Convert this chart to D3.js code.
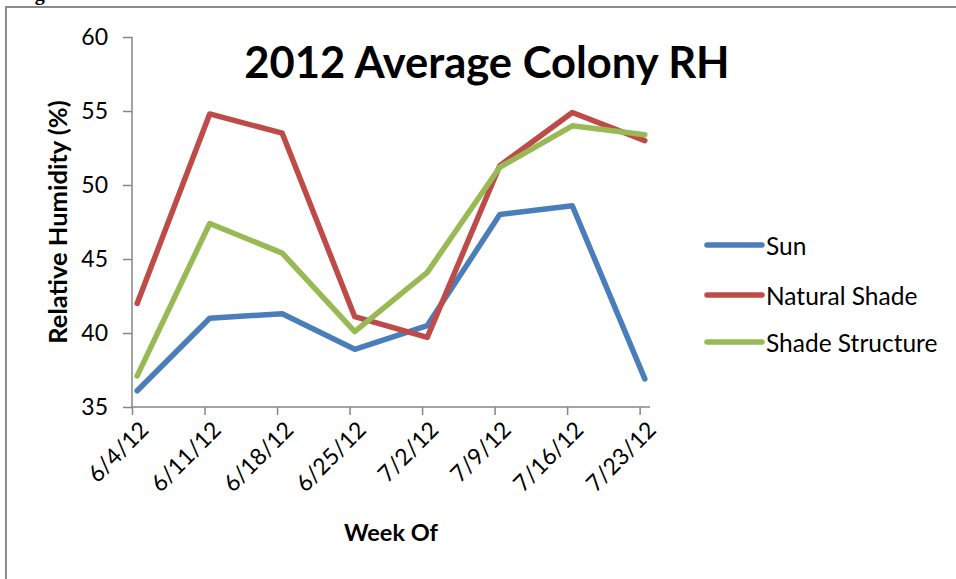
<!DOCTYPE html>
<html><head><meta charset="utf-8">
<script src="https://cdn.jsdelivr.net/npm/d3@7"></script>
<style>body{margin:0;background:#fff}svg{display:block}</style>
</head><body>
<svg id="chart" width="956" height="579"></svg>
<script>
// ---- data ----
const weekStarts = ["2012-06-04","2012-06-11","2012-06-18","2012-06-25","2012-07-02","2012-07-09","2012-07-16","2012-07-23"];
const weekLabels = ["6/4/12","6/11/12","6/18/12","6/25/12","7/2/12","7/9/12","7/16/12","7/23/12"];
const sampleTimes = ["2012-06-04 12:00","2012-06-11 12:00","2012-06-18 12:00","2012-06-25 12:00","2012-07-02 12:00","2012-07-09 12:00","2012-07-16 12:00","2012-07-23 12:00"];
const axisEnd = "2012-07-24";
const sunRH = [36.1, 41.0, 41.3, 38.9, 40.5, 48.0, 48.6, 36.9];
const naturalShadeRH = [42.0, 54.8, 53.5, 41.1, 39.7, 51.3, 54.9, 53.0];
const shadeStructureRH = [37.1, 47.4, 45.4, 40.1, 44.1, 51.2, 54.0, 53.4];
const seriesNames = ["Sun", "Natural Shade", "Shade Structure"];
const seriesColors = ["#4A7EBB", "#BE4B48", "#98B954"];
const yTicks = [35, 40, 45, 50, 55, 60];
const chartTitle = "2012 Average Colony RH";
const xTitle = "Week Of";
const yTitle = "Relative Humidity (%)";

// ---- drawing ----
const parseDay = d3.timeParse("%Y-%m-%d");
const parseTime = d3.timeParse("%Y-%m-%d %H:%M");
const svg = d3.select("#chart");
const FONT = "Lato, 'Open Sans', sans-serif";

const x = d3.scaleTime().domain([parseDay(weekStarts[0]), parseDay(axisEnd)]).range([132, 650]);
const y = d3.scaleLinear().domain([35, 60]).range([407, 37]);

// frame (clipped by page) and caption above
svg.append("text").attr("x", 17).attr("y", 0)
  .attr("font-family", "'Liberation Serif', serif").attr("font-weight", "bold").attr("font-size", 20)
  .attr("fill", "#000").text("Figure 3");
svg.append("path").attr("d", "M6,590V7H970").attr("fill", "none").attr("stroke", "#8a8a8a").attr("stroke-width", 2);

// y axis
const yAxis = d3.axisLeft(y).tickValues(yTicks).tickSize(9).tickPadding(15).tickFormat(d3.format("d"));
const gy = svg.append("g").attr("transform", "translate(132,0)").call(yAxis);
gy.select(".domain").attr("stroke", "#868686").attr("stroke-width", 1.5).attr("d", "M0,37V407");
gy.selectAll(".tick line").attr("stroke", "#868686").attr("stroke-width", 1.5);
gy.selectAll(".tick text").attr("font-family", FONT).attr("font-size", 23).attr("fill", "#000");

// x axis
const xAxis = d3.axisBottom(x).tickValues(weekStarts.map(parseDay)).tickSize(8)
  .tickFormat((d, i) => weekLabels[i]);
const gx = svg.append("g").attr("transform", "translate(0,407)").call(xAxis);
gx.select(".domain").attr("stroke", "#868686").attr("stroke-width", 1.5).attr("d", "M132,0H650");
gx.selectAll(".tick line").attr("stroke", "#868686").attr("stroke-width", 1.5);
gx.selectAll(".tick text")
  .attr("font-family", FONT).attr("font-size", 23).attr("fill", "#000")
  .attr("text-anchor", "end").attr("dy", null).attr("y", 0)
  .attr("dominant-baseline", "central")
  .attr("transform", "translate(11,18) rotate(-45)");

// lines
const allSeries = [sunRH, naturalShadeRH, shadeStructureRH];
const times = sampleTimes.map(parseTime);
const line = d3.line().x((d, i) => x(times[i])).y(d => y(d));
svg.append("g").selectAll("path").data(allSeries).join("path")
  .attr("d", line).attr("fill", "none")
  .attr("stroke", (d, i) => seriesColors[i]).attr("stroke-width", 5.5)
  .attr("stroke-linejoin", "round").attr("stroke-linecap", "round");

// title
svg.append("text").attr("x", 487).attr("y", 78).attr("text-anchor", "middle")
  .attr("font-family", FONT).attr("font-weight", "bold").attr("font-size", 43.5).text(chartTitle);

// axis titles
svg.append("text").attr("x", 391).attr("y", 541).attr("text-anchor", "middle")
  .attr("font-family", FONT).attr("font-weight", "bold").attr("font-size", 23.5).text(xTitle);
svg.append("text").attr("transform", "translate(67,222) rotate(-90)").attr("text-anchor", "middle")
  .attr("font-family", FONT).attr("font-weight", "bold").attr("font-size", 25.5).text(yTitle);

// legend
const legendY = [245, 295, 342];
const lg = svg.append("g").selectAll("g").data(seriesNames).join("g")
  .attr("transform", (d, i) => `translate(707,${legendY[i]})`);
lg.append("line").attr("x1", 0).attr("x2", 55).attr("stroke", (d, i) => seriesColors[i])
  .attr("stroke-width", 5.5).attr("stroke-linecap", "round");
lg.append("text").attr("x", 59).attr("y", 0).attr("dominant-baseline", "central")
  .attr("font-family", FONT).attr("font-size", 24.5).attr("fill", "#000").text(d => d);
</script>
</body></html>
